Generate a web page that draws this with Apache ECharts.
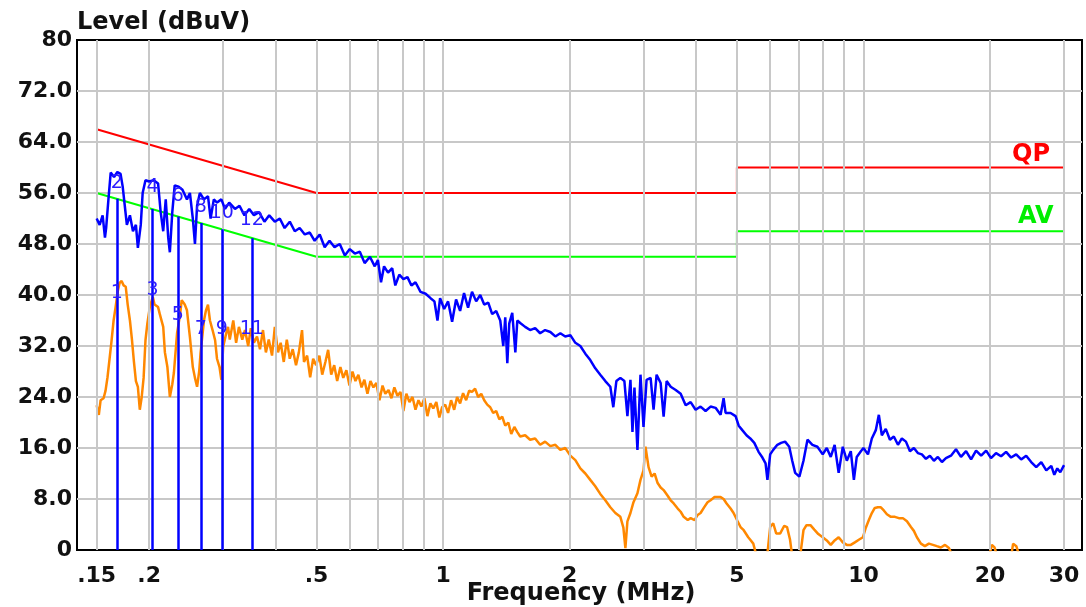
<!DOCTYPE html>
<html><head><meta charset="utf-8">
<script src="https://cdn.jsdelivr.net/npm/echarts@6/dist/echarts.min.js"></script>
<style>html,body{margin:0;padding:0;background:#fff}#c{width:1086px;height:607px}</style>
</head><body><div id="c"></div>
<script>
// ---- data ----
const gridFreqs = [0.15,0.2,0.3,0.4,0.5,0.6,0.7,0.8,0.9,1,2,3,4,5,6,7,8,9,10,20,30];
const tickFreqs = [0.15,0.2,0.5,1,2,5,10,20,30];
const tickLabels = ['.15','.2','.5','1','2','5','10','20','30'];
const qpLimit = [[0.15,66],[0.5,56],[5,56],[5,60],[30,60]];
const avLimit = [[0.15,56],[0.5,46],[5,46],[5,50],[30,50]];
const markerFreqs = [0.1675,0.2038,0.234,0.2654,0.2978,0.351];
const markerTop = [55.1,53.5,52.3,51.3,50.3,48.9];
const markerAV = [40.3,40.8,36.9,34.7,34.7,34.7];
const markerQP = [57.6,57.0,55.5,53.8,52.9,51.8];
const markerNamesAV = ['1','3','5','7','9','11'];
const markerNamesQP = ['2','4','6','8','10','12'];

const qpTrace = [[0.150,52],[0.1525,51],[0.155,52.5],[0.157,49],[0.158,50.5],[0.160,55],[0.162,59.2],[0.165,58.5],[0.168,59.3],[0.171,59],[0.173,57],[0.175,54],[0.177,51],[0.180,52.5],[0.183,50],[0.186,51],[0.188,47.4],[0.191,51],[0.193,56],[0.196,58],[0.200,57.8],[0.205,58],[0.210,57.5],[0.213,53],[0.216,50],[0.219,55],[0.222,49],[0.224,46.7],[0.227,53],[0.230,57.2],[0.235,57],[0.240,56.5],[0.246,55],[0.250,56],[0.254,52],[0.257,48],[0.260,54],[0.264,56],[0.270,55],[0.276,55.5],[0.280,52],[0.285,55],[0.290,54.5],[0.297,55],[0.303,53.5],[0.310,54.5],[0.320,53.5],[0.328,54],[0.337,52.5],[0.346,53.5],[0.355,52.5],[0.365,53],[0.376,51.5],[0.386,52.5],[0.398,51.5],[0.409,52],[0.420,50.5],[0.432,51.5],[0.444,50],[0.456,50.5],[0.469,49.5],[0.482,49.8],[0.495,48.5],[0.509,49.5],[0.523,47.5],[0.537,48.5],[0.552,47.5],[0.568,48],[0.584,46.2],[0.600,47.2],[0.617,46.5],[0.634,46.8],[0.651,45],[0.670,46],[0.688,44.5],[0.700,45.5],[0.712,42],[0.724,44.5],[0.740,43.5],[0.757,44.2],[0.770,41.5],[0.787,43.2],[0.805,42.5],[0.823,42.8],[0.841,41.5],[0.860,42],[0.884,40.5],[0.909,40.2],[0.934,39.5],[0.954,39],[0.970,36],[0.984,39.5],[1.006,37.8],[1.028,39],[1.051,35.8],[1.074,39.3],[1.098,37.5],[1.122,40.3],[1.147,38],[1.172,40.5],[1.199,39],[1.226,40],[1.253,38.5],[1.281,38.8],[1.309,37],[1.338,37.5],[1.368,36],[1.391,32],[1.406,36.5],[1.422,29.3],[1.437,35.5],[1.461,37.2],[1.486,31],[1.502,36],[1.526,35.6],[1.568,35],[1.611,34.5],[1.656,34.8],[1.702,34],[1.749,34.5],[1.800,34.2],[1.850,33.5],[1.901,34],[1.953,33.5],[2.008,33.7],[2.064,32.5],[2.121,32],[2.180,30.8],[2.240,29.8],[2.302,28.5],[2.366,27.5],[2.432,26.5],[2.500,25.6],[2.541,22.4],[2.584,26.5],[2.641,27],[2.700,26.5],[2.745,21],[2.791,26.7],[2.822,18.5],[2.853,25.5],[2.900,15.7],[2.949,27.5],[2.998,19.3],[3.049,26.7],[3.117,27],[3.168,22],[3.221,27.5],[3.293,26.2],[3.347,20.9],[3.403,26.5],[3.479,25.6],[3.576,25.1],[3.675,24.5],[3.777,22.7],[3.881,23.2],[3.988,22],[4.098,22.5],[4.212,21.8],[4.329,22.5],[4.449,22.3],[4.573,21.2],[4.649,23.8],[4.700,21.5],[4.830,21.5],[4.964,21],[5.05,19.5],[5.15,18.8],[5.27,18],[5.38,17.5],[5.50,16.8],[5.63,15.4],[5.75,14.5],[5.85,13.6],[5.91,11],[6.00,15],[6.10,15.7],[6.24,16.5],[6.37,16.8],[6.51,17],[6.66,16.2],[6.77,14],[6.88,12.1],[7.04,11.5],[7.20,14],[7.36,17.3],[7.56,16.5],[7.77,16.2],[8.00,15],[8.18,16],[8.36,14.6],[8.54,16.5],[8.73,12.1],[8.93,16.2],[9.13,14],[9.33,15.5],[9.49,11],[9.64,14.6],[9.86,15.5],[10.0,16],[10.25,15],[10.47,17.5],[10.70,18.8],[10.88,21.2],[11.06,18],[11.30,19],[11.56,17.3],[11.81,17.8],[12.08,16.5],[12.34,17.5],[12.62,17],[12.90,15.5],[13.18,16],[13.47,15.2],[13.77,15],[14.08,14.3],[14.39,14.8],[14.71,14],[15.03,14.6],[15.37,13.8],[15.71,14.4],[16.15,14.8],[16.60,15.8],[17.06,14.6],[17.54,15.5],[18.03,14.2],[18.53,15.6],[19.05,14.8],[19.58,15.6],[20.11,14.4],[20.67,15.2],[21.25,14.7],[21.84,15.4],[22.45,14.5],[23.08,15],[23.72,14.2],[24.38,14.8],[25.06,13.8],[25.76,13],[26.48,13.8],[27.22,12.5],[27.98,13.2],[28.44,11.8],[28.91,12.8],[29.39,12.2],[30.0,13.3]];

const avTrace = [[0.150,22.7],[0.1518,21.2],[0.1533,23.5],[0.1558,23.8],[0.1575,25],[0.1592,27.1],[0.161,30],[0.1628,32.9],[0.1646,36],[0.1664,38.1],[0.1683,40.5],[0.1701,41.9],[0.172,42.2],[0.1739,41.5],[0.1759,41.3],[0.1778,38.5],[0.180,36],[0.182,33],[0.184,29.5],[0.186,26.5],[0.188,25.6],[0.190,22],[0.192,24],[0.194,27],[0.196,32.9],[0.198,35.5],[0.2007,38.1],[0.204,39.7],[0.206,38.5],[0.210,38.1],[0.212,37],[0.216,35],[0.218,31],[0.221,28.7],[0.224,24],[0.227,26],[0.229,27.8],[0.233,34],[0.237,37],[0.239,39.2],[0.243,38.5],[0.246,37.6],[0.250,33.4],[0.254,28.7],[0.257,27],[0.260,25.6],[0.263,28],[0.265,30.9],[0.270,36],[0.273,37.6],[0.276,38.5],[0.279,36],[0.283,34.5],[0.287,32.9],[0.290,30],[0.294,28.7],[0.297,26.7],[0.300,31.9],[0.305,34],[0.308,35],[0.311,33],[0.317,36],[0.322,32.5],[0.327,35],[0.333,33],[0.338,34.5],[0.344,32],[0.349,34.8],[0.355,32.5],[0.361,33.5],[0.367,31.5],[0.373,34.5],[0.379,31],[0.385,33],[0.392,30.5],[0.398,35],[0.405,31],[0.411,32.5],[0.418,29.5],[0.425,33],[0.432,30],[0.439,31.5],[0.447,29],[0.454,31],[0.462,34.5],[0.467,29.5],[0.475,30.5],[0.483,27.1],[0.491,30],[0.499,29],[0.508,30.5],[0.516,27.5],[0.525,29.5],[0.533,31.4],[0.542,27.5],[0.551,29],[0.560,26.5],[0.570,28.7],[0.579,27],[0.589,28.2],[0.599,25.8],[0.609,28],[0.619,26.5],[0.629,27.5],[0.640,25.5],[0.650,26.7],[0.661,24.5],[0.672,26.5],[0.683,25.5],[0.694,26.2],[0.706,23.5],[0.718,25.8],[0.729,24.5],[0.742,25.1],[0.754,23.8],[0.766,25.5],[0.779,24.2],[0.792,24.8],[0.805,21.8],[0.818,24.5],[0.832,23.2],[0.846,24],[0.860,22],[0.874,23.5],[0.888,22.5],[0.903,23.8],[0.918,21],[0.933,23],[0.948,22.2],[0.964,23.2],[0.980,20.8],[0.995,22.4],[1.012,22.8],[1.028,21.5],[1.045,23.5],[1.063,22],[1.080,24],[1.098,23],[1.116,24.6],[1.135,23.5],[1.154,25],[1.172,24.8],[1.192,25.3],[1.212,24],[1.233,24.5],[1.253,23.5],[1.274,22.8],[1.295,22.4],[1.316,21.5],[1.338,21.8],[1.361,20.5],[1.383,20.9],[1.406,19.5],[1.430,20],[1.453,18.2],[1.478,19.3],[1.502,18.5],[1.526,17.8],[1.568,18],[1.611,17.3],[1.656,17.5],[1.702,16.5],[1.749,17],[1.800,16.3],[1.850,16.5],[1.901,15.7],[1.953,16],[2.008,14.8],[2.064,14.1],[2.121,12.8],[2.180,12],[2.240,11],[2.302,10],[2.366,8.8],[2.432,7.8],[2.500,6.7],[2.570,5.8],[2.641,5.2],[2.685,3.5],[2.715,0.3],[2.745,4.5],[2.791,5.8],[2.838,7.5],[2.900,8.9],[2.949,11],[2.998,12.5],[3.031,16.2],[3.082,13],[3.134,11.5],[3.186,12],[3.239,10.5],[3.293,9.8],[3.347,9.4],[3.422,8.5],[3.479,7.8],[3.537,7.3],[3.616,6.5],[3.675,6],[3.736,5.2],[3.820,4.7],[3.881,5],[3.966,4.7],[4.033,5.5],[4.098,5.8],[4.189,6.8],[4.258,7.5],[4.329,7.8],[4.424,8.3],[4.498,8.3],[4.573,8.3],[4.649,8],[4.726,7.3],[4.830,6.5],[4.910,5.8],[5.02,4.5],[5.10,3.6],[5.19,3.1],[5.32,2],[5.38,1.6],[5.47,1],[5.57,-1],[5.72,-1],[5.90,-1],[6.00,3.6],[6.10,4.2],[6.20,2.6],[6.34,2.6],[6.48,3.8],[6.58,3.6],[6.69,1.6],[6.77,-1],[7.07,-1],[7.20,3.1],[7.32,3.9],[7.48,3.9],[7.64,3.2],[7.81,2.5],[8.00,2],[8.18,1.5],[8.36,0.8],[8.54,1.5],[8.73,2],[8.93,1.2],[9.13,0.8],[9.33,0.8],[9.54,1.2],[9.75,1.6],[9.97,2],[10.13,3.5],[10.30,4.7],[10.47,5.8],[10.64,6.6],[10.82,6.7],[11.00,6.7],[11.18,6.2],[11.37,5.6],[11.62,5.2],[11.88,5.2],[12.14,5],[12.41,5],[12.69,4.5],[12.97,3.6],[13.18,3],[13.40,2],[13.70,1],[14.00,0.6],[14.31,1],[14.63,0.8],[14.95,0.6],[15.28,0.4],[15.63,0.8],[15.97,0.3],[16.3,-1],[19.9,-1],[20.2,0.8],[20.5,0.4],[20.8,-1],[22.45,-1],[22.7,1],[23.1,0.6],[23.5,-1],[30.0,-1]];

// ---- chart ----
const F = 'DejaVu Sans';
const chart = echarts.init(document.getElementById('c'));
const option = {
  animation: false,
  backgroundColor: '#fff',
  grid: {left: 77, right: 4, top: 40, bottom: 57, show: true, borderColor: '#000', borderWidth: 2,
    backgroundColor: '#fff', outerBoundsMode: 'none', containLabel: false},
  xAxis: {
    type: 'log', logBase: 10, min: 0.1347, max: 33.1,
    axisLine: {show: false}, axisTick: {show: false}, axisLabel: {show: false},
    splitLine: {show: false}, minorTick: {show: false}, minorSplitLine: {show: false}
  },
  yAxis: {
    type: 'value', min: 0, max: 80, interval: 8,
    axisLine: {show: false}, axisTick: {show: false},
    axisLabel: {fontFamily: F, fontWeight: 'bold', fontSize: 22, color: '#111', margin: 5,
      formatter: v => (v === 0 || v === 80) ? String(v) : v.toFixed(1)},
    splitLine: {show: true, showMinLine: false, showMaxLine: false, lineStyle: {color: '#c8c8c8', width: 2}}
  },
  graphic: [
    {type: 'text', left: 77, top: 11, z: 100, style: {text: 'Level (dBuV)', fontFamily: F, fontWeight: 'bold', fontSize: 24, fill: '#111'}},
    {type: 'text', x: 581, y: 594, z: 100, style: {text: 'Frequency (MHz)', fontFamily: F, fontWeight: 'bold', fontSize: 24, fill: '#111', align: 'center', verticalAlign: 'middle'}},
    {type: 'text', left: 1012, top: 143, z: 100, style: {text: 'QP', fontFamily: F, fontWeight: 'bold', fontSize: 24, fill: '#ff0000'}},
    {type: 'text', left: 1018, top: 205, z: 100, style: {text: 'AV', fontFamily: F, fontWeight: 'bold', fontSize: 24, fill: '#00ee00'}}
  ],
  series: [
    {
      name: 'grid', type: 'line', data: [], z: 1, silent: true,
      markLine: {
        silent: true, symbol: ['none', 'none'], animation: false,
        lineStyle: {color: '#c8c8c8', width: 2, type: 'solid'},
        emphasis: {disabled: true},
        label: {show: true, position: 'start', distance: 15, fontFamily: F, fontWeight: 'bold', fontSize: 22, color: '#111',
          formatter: p => { const i = tickFreqs.indexOf(p.value); return i >= 0 ? tickLabels[i] : ''; }},
        data: gridFreqs.map(f => ({xAxis: f}))
      }
    },
    {name: 'QP limit', type: 'line', data: qpLimit, showSymbol: false, z: 3, lineStyle: {color: '#ff0000', width: 2}, itemStyle: {color: '#ff0000'}},
    {name: 'AV limit', type: 'line', data: avLimit, showSymbol: false, z: 3, lineStyle: {color: '#00ff00', width: 2}, itemStyle: {color: '#00ff00'}},
    {name: 'AV', type: 'line', data: avTrace, showSymbol: false, z: 4, clip: true, lineStyle: {color: '#ff8800', width: 2.5}, itemStyle: {color: '#ff8800'}},
    {name: 'QP', type: 'line', data: qpTrace, showSymbol: false, z: 5, clip: true, lineStyle: {color: '#0000ff', width: 2.5}, itemStyle: {color: '#0000ff'}},
    {
      name: 'markers', type: 'line', data: [], z: 6, silent: true,
      markLine: {
        silent: true, symbol: ['none', 'none'], animation: false,
        lineStyle: {color: '#0000ff', width: 2.5, type: 'solid'}, label: {show: false},
        emphasis: {disabled: true},
        data: markerFreqs.map((f, i) => [{coord: [f, 0]}, {coord: [f, markerTop[i]]}])
      }
    },
    {
      name: 'marker labels', type: 'scatter', z: 7, silent: true, symbolSize: 2,
      itemStyle: {color: '#2b1cff', opacity: 0},
      label: {show: true, position: 'inside', fontFamily: F, fontSize: 19, color: '#2b1cff',
        opacity: 1, textBorderWidth: 0, textBorderColor: 'transparent', textShadowBlur: 0},
      labelLayout: {hideOverlap: false},
      data: markerFreqs.map((f, i) => ({value: [f, markerAV[i]], name: markerNamesAV[i]}))
        .concat(markerFreqs.map((f, i) => ({value: [f, markerQP[i]], name: markerNamesQP[i]}))),
      encode: {x: 0, y: 1}
    }
  ]
};
option.series[6].label.formatter = p => p.name;
chart.setOption(option);
</script>
</body></html>
